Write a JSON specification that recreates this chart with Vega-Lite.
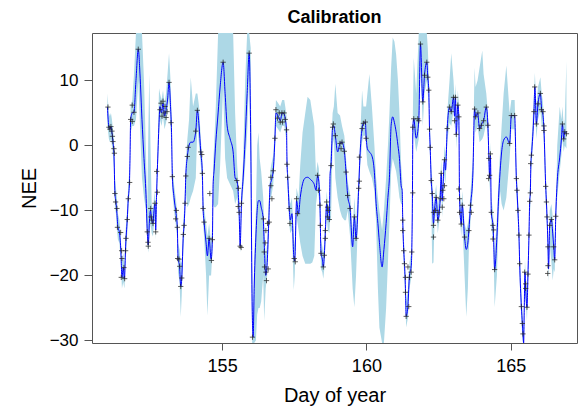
{
"$schema": "https://vega.github.io/schema/vega-lite/v6.json",
"width": 485, "height": 310,
"autosize": {"type": "none"},
"padding": {"left": 92, "top": 33, "right": 7, "bottom": 66},
"background": "white",
"title": {"text": "Calibration", "fontSize": 18, "fontWeight": "bold", "font": "Liberation Sans", "color": "black", "anchor": "middle", "baseline": "bottom", "offset": 7, "dy": 19},
"config": {"view": {"stroke": "#555", "strokeWidth": 1}},
"datasets": {
"pred": [
{"t":151.024,"m":5.9,"lo":3.0,"hi":8.0},{"t":151.076,"m":2.8,"lo":1.0,"hi":5.0},{"t":151.111,"m":2.5,"lo":0.5,"hi":4.5},{"t":151.146,"m":2.9,"lo":1.0,"hi":5.0},{"t":151.181,"m":2.0,"lo":0.0,"hi":4.0},{"t":151.215,"m":0.6,"lo":-1.5,"hi":2.5},{"t":151.250,"m":-1.2,"lo":-3.5,"hi":1.0},{"t":151.285,"m":-7.4,"lo":-9.5,"hi":-5.0},{"t":151.320,"m":-8.7,"lo":-10.5,"hi":-6.5},{"t":151.354,"m":-10.5,"lo":-13,"hi":-8},{"t":151.389,"m":-12.6,"lo":-14.5,"hi":-10.5},{"t":151.441,"m":-13.4,"lo":-15,"hi":-11.5},{"t":151.493,"m":-16.5,"lo":-18.5,"hi":-14.5},{"t":151.528,"m":-20.3,"lo":-22,"hi":-18},{"t":151.573,"m":-18.8,"lo":-21,"hi":-16.5},{"t":151.615,"m":-20.5,"lo":-22,"hi":-18.5},{"t":151.656,"m":-15.5,"lo":-17.5,"hi":-13},{"t":151.712,"m":-11.4,"lo":-13.5,"hi":-9.5},{"t":151.747,"m":-8.2,"lo":-10,"hi":-6},{"t":151.788,"m":-5.7,"lo":-7.5,"hi":-3.5},{"t":151.806,"m":-2.3,"lo":-4.5,"hi":0},{"t":151.830,"m":4.0,"lo":2,"hi":6},{"t":151.885,"m":5.0,"lo":3,"hi":7},{"t":151.944,"m":5.1,"lo":3,"hi":10.8},{"t":152.014,"m":10,"lo":4,"hi":18},{"t":152.094,"m":14.8,"lo":10,"hi":22},{"t":152.153,"m":11,"lo":3,"hi":22},{"t":152.222,"m":4,"lo":-5,"hi":20},{"t":152.292,"m":-2,"lo":-8,"hi":10},{"t":152.361,"m":-7.5,"lo":-10,"hi":-1},{"t":152.406,"m":-13.3,"lo":-15,"hi":-10},{"t":152.441,"m":-15.3,"lo":-16.5,"hi":2},{"t":152.476,"m":-12,"lo":-14,"hi":11},{"t":152.517,"m":-10,"lo":-12,"hi":0},{"t":152.559,"m":-11.5,"lo":-13.5,"hi":-9},{"t":152.604,"m":-12,"lo":-14,"hi":-10},{"t":152.639,"m":-10,"lo":-12,"hi":-8},{"t":152.674,"m":-9,"lo":-11,"hi":-7},{"t":152.698,"m":-13,"lo":-14.5,"hi":-11},{"t":152.726,"m":-8,"lo":-10,"hi":-6},{"t":152.753,"m":-4,"lo":-6,"hi":-2},{"t":152.785,"m":0,"lo":-2,"hi":3},{"t":152.813,"m":3.5,"lo":1.5,"hi":8.8},{"t":152.847,"m":6,"lo":4,"hi":8},{"t":152.899,"m":5,"lo":3,"hi":7},{"t":152.951,"m":6.5,"lo":4.5,"hi":8.5},{"t":153.003,"m":4.5,"lo":2.5,"hi":6.5},{"t":153.056,"m":5.5,"lo":3.5,"hi":8},{"t":153.108,"m":7,"lo":5,"hi":11},{"t":153.160,"m":9.7,"lo":7.5,"hi":14.2},{"t":153.212,"m":6,"lo":3,"hi":10},{"t":153.247,"m":2,"lo":-1,"hi":5},{"t":153.275,"m":-4.8,"lo":-7,"hi":-2.5},{"t":153.333,"m":-8,"lo":-10,"hi":-6},{"t":153.403,"m":-10.5,"lo":-12.5,"hi":-8.5},{"t":153.448,"m":-12.6,"lo":-14.5,"hi":-10.5},{"t":153.472,"m":-17.4,"lo":-19.5,"hi":-15},{"t":153.524,"m":-18.6,"lo":-21,"hi":-16},{"t":153.566,"m":-21.7,"lo":-26.4,"hi":-18},{"t":153.601,"m":-20.4,"lo":-23,"hi":-18},{"t":153.656,"m":-13.7,"lo":-16,"hi":-11.5},{"t":153.681,"m":-12.3,"lo":-14.5,"hi":-10},{"t":153.715,"m":-8.9,"lo":-11,"hi":-6.5},{"t":153.740,"m":-4.8,"lo":-7,"hi":-2.5},{"t":153.795,"m":-1.7,"lo":-9.5,"hi":1},{"t":153.854,"m":0,"lo":-9,"hi":4},{"t":153.913,"m":0.5,"lo":-8,"hi":10.5},{"t":153.993,"m":0.5,"lo":-7,"hi":6},{"t":154.087,"m":2.2,"lo":-5,"hi":8},{"t":154.142,"m":5.4,"lo":3,"hi":8},{"t":154.201,"m":3,"lo":0,"hi":6},{"t":154.260,"m":-1,"lo":-3,"hi":1},{"t":154.316,"m":-4.3,"lo":-6.5,"hi":-2},{"t":154.340,"m":-9.7,"lo":-12,"hi":-7.5},{"t":154.375,"m":-11.8,"lo":-14,"hi":-9.5},{"t":154.444,"m":-15,"lo":-20,"hi":-12},{"t":154.490,"m":-17,"lo":-26.2,"hi":-14},{"t":154.549,"m":-14.3,"lo":-20,"hi":-12},{"t":154.618,"m":-17.5,"lo":-20,"hi":-15},{"t":154.663,"m":-14.5,"lo":-16.5,"hi":-12},{"t":154.688,"m":-6,"lo":-9,"hi":-3},{"t":154.722,"m":-3.8,"lo":-9.5,"hi":0},{"t":154.781,"m":0.5,"lo":-9.5,"hi":6},{"t":154.861,"m":5,"lo":-9,"hi":18},{"t":154.931,"m":9,"lo":-3,"hi":22},{"t":155.035,"m":12.8,"lo":9,"hi":22},{"t":155.104,"m":8,"lo":-2,"hi":22},{"t":155.174,"m":3,"lo":-5,"hi":22},{"t":155.278,"m":1,"lo":-6,"hi":20},{"t":155.382,"m":-1,"lo":-7,"hi":18},{"t":155.451,"m":-5,"lo":-9,"hi":5},{"t":155.521,"m":-5.5,"lo":-8,"hi":-3},{"t":155.566,"m":-8,"lo":-10,"hi":-6},{"t":155.590,"m":-10.3,"lo":-13,"hi":-8},{"t":155.625,"m":-15.5,"lo":-16.5,"hi":-13.5},{"t":155.670,"m":-9,"lo":-11,"hi":-7},{"t":155.729,"m":-5,"lo":-7,"hi":-2},{"t":155.799,"m":1,"lo":-3,"hi":10},{"t":155.868,"m":8,"lo":2,"hi":22},{"t":155.938,"m":14.2,"lo":11,"hi":22},{"t":155.990,"m":2,"lo":-5,"hi":15},{"t":156.042,"m":-25,"lo":-33,"hi":-18},{"t":156.076,"m":-29.5,"lo":-33,"hi":-26},{"t":156.111,"m":-22,"lo":-33,"hi":-18},{"t":156.170,"m":-14.1,"lo":-30,"hi":-10},{"t":156.215,"m":-10,"lo":-26,"hi":0},{"t":156.260,"m":-8.5,"lo":-25,"hi":2},{"t":156.302,"m":-8.5,"lo":-25,"hi":-2},{"t":156.354,"m":-9.5,"lo":-24,"hi":-4},{"t":156.424,"m":-11.3,"lo":-20,"hi":-8},{"t":156.458,"m":-15,"lo":-27,"hi":-12},{"t":156.510,"m":-20,"lo":-22,"hi":-17},{"t":156.563,"m":-18,"lo":-20,"hi":-15},{"t":156.615,"m":-12,"lo":-14,"hi":-9},{"t":156.667,"m":-6,"lo":-8,"hi":-4},{"t":156.701,"m":-5.5,"lo":-8,"hi":-3},{"t":156.771,"m":-3.9,"lo":-6,"hi":-1.5},{"t":156.830,"m":1.1,"lo":-1,"hi":3},{"t":156.865,"m":5,"lo":3,"hi":7},{"t":156.944,"m":4.5,"lo":2.5,"hi":6.5},{"t":157.014,"m":3.8,"lo":2,"hi":6},{"t":157.083,"m":5,"lo":3,"hi":7},{"t":157.153,"m":4.8,"lo":3,"hi":7},{"t":157.188,"m":4,"lo":2,"hi":6},{"t":157.233,"m":2.4,"lo":0.5,"hi":4.5},{"t":157.250,"m":-2.9,"lo":-5,"hi":-1},{"t":157.274,"m":-4.9,"lo":-7,"hi":-3},{"t":157.326,"m":-9.7,"lo":-12,"hi":-7.5},{"t":157.361,"m":-11.5,"lo":-13.5,"hi":-9},{"t":157.420,"m":-10.5,"lo":-13,"hi":-8},{"t":157.483,"m":-17,"lo":-22.3,"hi":-14},{"t":157.517,"m":-17.8,"lo":-20,"hi":-15.5},{"t":157.580,"m":-8.5,"lo":-11,"hi":-6.5},{"t":157.649,"m":-10.5,"lo":-13,"hi":-8},{"t":157.708,"m":-8,"lo":-15,"hi":-3},{"t":157.788,"m":-5.9,"lo":-17,"hi":2},{"t":157.882,"m":-5,"lo":-18.2,"hi":5},{"t":157.962,"m":-4.9,"lo":-18.2,"hi":7.5},{"t":158.056,"m":-5.2,"lo":-18.2,"hi":7},{"t":158.125,"m":-5.5,"lo":-18,"hi":5},{"t":158.194,"m":-6,"lo":-17,"hi":3},{"t":158.253,"m":-6.9,"lo":-9,"hi":-4.5},{"t":158.309,"m":-4.6,"lo":-7,"hi":-2.5},{"t":158.351,"m":-5.5,"lo":-8,"hi":-3.5},{"t":158.392,"m":-9.2,"lo":-11.5,"hi":-7},{"t":158.427,"m":-16.6,"lo":-19,"hi":-14.5},{"t":158.472,"m":-17.5,"lo":-19.5,"hi":-15.5},{"t":158.507,"m":-18.7,"lo":-20.5,"hi":-16.5},{"t":158.542,"m":-16.9,"lo":-19,"hi":-15},{"t":158.576,"m":-13.5,"lo":-15.5,"hi":-11.5},{"t":158.622,"m":-9,"lo":-11,"hi":-7},{"t":158.663,"m":-11,"lo":-13,"hi":-9},{"t":158.715,"m":-11.4,"lo":-13.5,"hi":-9.5},{"t":158.740,"m":-4.6,"lo":-11.5,"hi":-2.5},{"t":158.774,"m":-3.1,"lo":-11.5,"hi":0},{"t":158.830,"m":2.8,"lo":0,"hi":5},{"t":158.872,"m":3.0,"lo":1,"hi":6},{"t":158.924,"m":1.5,"lo":-5,"hi":9.5},{"t":159.004,"m":-1,"lo":-8,"hi":5},{"t":159.087,"m":0.3,"lo":-10,"hi":4.6},{"t":159.156,"m":0.5,"lo":-11,"hi":3},{"t":159.236,"m":-0.9,"lo":-11.5,"hi":1.5},{"t":159.295,"m":-4.1,"lo":-11.5,"hi":-2},{"t":159.351,"m":-7.7,"lo":-10,"hi":-5.5},{"t":159.434,"m":-9.7,"lo":-14,"hi":-7.5},{"t":159.524,"m":-15.6,"lo":-22,"hi":-13},{"t":159.583,"m":-11,"lo":-24.9,"hi":-8},{"t":159.642,"m":-14.3,"lo":-20,"hi":-12},{"t":159.733,"m":-6.6,"lo":-9,"hi":-4.5},{"t":159.774,"m":-2,"lo":-4,"hi":0},{"t":159.851,"m":2.6,"lo":0.5,"hi":8.5},{"t":159.896,"m":3.4,"lo":1.5,"hi":6},{"t":159.965,"m":3.6,"lo":1.5,"hi":6},{"t":159.990,"m":1.5,"lo":-0.5,"hi":6},{"t":160.035,"m":-0.5,"lo":-3,"hi":8},{"t":160.104,"m":-1,"lo":-4,"hi":11},{"t":160.191,"m":-1.6,"lo":-5,"hi":6},{"t":160.278,"m":-4.2,"lo":-7,"hi":0},{"t":160.337,"m":-8.9,"lo":-12,"hi":-5},{"t":160.399,"m":-12,"lo":-22,"hi":-8},{"t":160.451,"m":-14.9,"lo":-28,"hi":-10},{"t":160.545,"m":-18.7,"lo":-33,"hi":-13},{"t":160.608,"m":-16,"lo":-31,"hi":-10},{"t":160.684,"m":-12,"lo":-25,"hi":-5},{"t":160.747,"m":-8,"lo":-18,"hi":0},{"t":160.799,"m":-4.9,"lo":-12,"hi":5},{"t":160.858,"m":3.1,"lo":-4,"hi":12},{"t":160.913,"m":4.4,"lo":-2,"hi":16.6},{"t":160.972,"m":3.5,"lo":-3,"hi":16},{"t":161.031,"m":2.1,"lo":-4,"hi":14},{"t":161.094,"m":0,"lo":-6,"hi":10},{"t":161.146,"m":-2,"lo":-8,"hi":5},{"t":161.205,"m":-6.2,"lo":-9,"hi":-3},{"t":161.240,"m":-6.9,"lo":-9,"hi":-5},{"t":161.260,"m":-11.5,"lo":-14,"hi":-9},{"t":161.295,"m":-16.2,"lo":-18.5,"hi":-14},{"t":161.320,"m":-18.2,"lo":-20.5,"hi":-16},{"t":161.354,"m":-22,"lo":-24.5,"hi":-20},{"t":161.379,"m":-26.3,"lo":-28,"hi":-24},{"t":161.441,"m":-24.5,"lo":-26.5,"hi":-22},{"t":161.493,"m":-20,"lo":-22,"hi":-18},{"t":161.552,"m":-18.7,"lo":-20.5,"hi":-16.5},{"t":161.573,"m":-16.4,"lo":-18.5,"hi":-14},{"t":161.597,"m":-7.3,"lo":-9.5,"hi":-5},{"t":161.611,"m":2.8,"lo":0.5,"hi":5},{"t":161.642,"m":4.1,"lo":2,"hi":13.5},{"t":161.726,"m":1.1,"lo":-1,"hi":8},{"t":161.816,"m":3.8,"lo":1,"hi":20},{"t":161.875,"m":15.6,"lo":12,"hi":22},{"t":161.955,"m":6.7,"lo":3,"hi":22},{"t":162.014,"m":10.8,"lo":8,"hi":22},{"t":162.094,"m":12.8,"lo":10,"hi":20},{"t":162.129,"m":10.5,"lo":8,"hi":15},{"t":162.163,"m":8.5,"lo":6,"hi":11},{"t":162.188,"m":2.5,"lo":0,"hi":5},{"t":162.212,"m":-0.3,"lo":-2.5,"hi":2},{"t":162.247,"m":-5.4,"lo":-8,"hi":-3},{"t":162.281,"m":-7.4,"lo":-18.2,"hi":-5},{"t":162.326,"m":-12,"lo":-18,"hi":-9.5},{"t":162.361,"m":-10,"lo":-12,"hi":-8},{"t":162.420,"m":-8,"lo":-10,"hi":-6},{"t":162.476,"m":-11.5,"lo":-13.5,"hi":-9.5},{"t":162.559,"m":-8.2,"lo":-10.5,"hi":-6},{"t":162.594,"m":-4.3,"lo":-6.5,"hi":-2},{"t":162.628,"m":-8.5,"lo":-11,"hi":-6.5},{"t":162.649,"m":-6.9,"lo":-9,"hi":-5},{"t":162.708,"m":-2.2,"lo":-4.5,"hi":0},{"t":162.743,"m":-3.8,"lo":-6,"hi":-1.5},{"t":162.802,"m":2.6,"lo":0.5,"hi":5},{"t":162.882,"m":5.9,"lo":3.5,"hi":10},{"t":162.941,"m":5.2,"lo":3,"hi":14.2},{"t":163.021,"m":7.4,"lo":5.5,"hi":10},{"t":163.056,"m":4.5,"lo":2.5,"hi":7},{"t":163.090,"m":7.4,"lo":5.5,"hi":9.5},{"t":163.115,"m":1.7,"lo":-0.5,"hi":4},{"t":163.170,"m":6.2,"lo":4,"hi":8.5},{"t":163.205,"m":4.4,"lo":2,"hi":6.5},{"t":163.229,"m":-8.2,"lo":-10.5,"hi":-6},{"t":163.288,"m":-12.1,"lo":-14,"hi":-10},{"t":163.323,"m":-9.2,"lo":-11.5,"hi":-7},{"t":163.403,"m":-14.1,"lo":-20,"hi":-12},{"t":163.462,"m":-16,"lo":-26.4,"hi":-13},{"t":163.517,"m":-15,"lo":-22,"hi":-12},{"t":163.552,"m":-13.1,"lo":-16,"hi":-11},{"t":163.611,"m":-9.2,"lo":-11.5,"hi":-7},{"t":163.691,"m":-4.4,"lo":-7,"hi":-2},{"t":163.750,"m":5.6,"lo":3,"hi":12},{"t":163.785,"m":4.4,"lo":2,"hi":9},{"t":163.854,"m":5,"lo":3,"hi":10},{"t":163.924,"m":2.6,"lo":0.5,"hi":12},{"t":164.017,"m":3.5,"lo":1,"hi":14.6},{"t":164.062,"m":3.8,"lo":1.5,"hi":11},{"t":164.156,"m":5.9,"lo":3.5,"hi":8},{"t":164.212,"m":3.1,"lo":1,"hi":5},{"t":164.247,"m":-2,"lo":-4,"hi":0},{"t":164.271,"m":-5,"lo":-7,"hi":-3},{"t":164.299,"m":-1.5,"lo":-3.5,"hi":0.5},{"t":164.330,"m":-10.3,"lo":-12.5,"hi":-8},{"t":164.386,"m":-12.3,"lo":-14.5,"hi":-10},{"t":164.410,"m":-14.4,"lo":-17,"hi":-12},{"t":164.445,"m":-19.1,"lo":-24.9,"hi":-16.5},{"t":164.525,"m":-14,"lo":-20,"hi":-11},{"t":164.583,"m":-8,"lo":-11,"hi":-5},{"t":164.635,"m":-4,"lo":-7,"hi":-1},{"t":164.688,"m":-1,"lo":-9,"hi":3},{"t":164.757,"m":0.8,"lo":-10,"hi":8},{"t":164.851,"m":1.3,"lo":-8,"hi":12.3},{"t":164.965,"m":0.3,"lo":-2,"hi":5},{"t":165.024,"m":4.6,"lo":2.5,"hi":7},{"t":165.139,"m":4.6,"lo":2.5,"hi":7},{"t":165.198,"m":-5.1,"lo":-7.5,"hi":-3},{"t":165.219,"m":-6.9,"lo":-9,"hi":-4.5},{"t":165.253,"m":-10,"lo":-12,"hi":-8},{"t":165.288,"m":-13.8,"lo":-16,"hi":-11.5},{"t":165.313,"m":-18.2,"lo":-20.5,"hi":-16},{"t":165.372,"m":-24.8,"lo":-27,"hi":-22.5},{"t":165.406,"m":-27.4,"lo":-29.5,"hi":-25},{"t":165.427,"m":-29,"lo":-31,"hi":-27},{"t":165.451,"m":-30.8,"lo":-34,"hi":-28},{"t":165.472,"m":-25,"lo":-27.5,"hi":-22.5},{"t":165.497,"m":-19.5,"lo":-22,"hi":-17.5},{"t":165.521,"m":-22,"lo":-24,"hi":-20},{"t":165.566,"m":-24.9,"lo":-27,"hi":-22.5},{"t":165.601,"m":-19.8,"lo":-22,"hi":-17.5},{"t":165.636,"m":-13.8,"lo":-16,"hi":-11.5},{"t":165.660,"m":-8.6,"lo":-11,"hi":-6.5},{"t":165.684,"m":-7.3,"lo":-9.5,"hi":-5},{"t":165.701,"m":-2.8,"lo":-5,"hi":-0.5},{"t":165.722,"m":-1.5,"lo":-3.5,"hi":0.5},{"t":165.809,"m":5.2,"lo":3,"hi":8},{"t":165.840,"m":9,"lo":6.5,"hi":11.2},{"t":165.892,"m":3.3,"lo":1,"hi":6},{"t":165.948,"m":6.4,"lo":4,"hi":9},{"t":166.031,"m":8,"lo":5.5,"hi":10.5},{"t":166.076,"m":5.5,"lo":3,"hi":8},{"t":166.111,"m":5,"lo":3,"hi":7},{"t":166.156,"m":2.3,"lo":0,"hi":4.5},{"t":166.215,"m":-6.3,"lo":-8.5,"hi":-4},{"t":166.240,"m":-8.7,"lo":-11,"hi":-6.5},{"t":166.261,"m":-11,"lo":-13,"hi":-9},{"t":166.295,"m":-15.6,"lo":-18,"hi":-13.5},{"t":166.313,"m":-19,"lo":-21,"hi":-17},{"t":166.354,"m":-12.3,"lo":-15,"hi":-10},{"t":166.413,"m":-11.4,"lo":-18,"hi":-9},{"t":166.458,"m":-13.5,"lo":-20.8,"hi":-11},{"t":166.493,"m":-15.6,"lo":-19,"hi":-13},{"t":166.528,"m":-17.6,"lo":-19.5,"hi":-15.5},{"t":166.563,"m":-10.9,"lo":-13,"hi":-8.5},{"t":166.587,"m":-8,"lo":-10,"hi":-6},{"t":166.615,"m":-5.5,"lo":-8,"hi":0},{"t":166.701,"m":-1.8,"lo":-4,"hi":6},{"t":166.760,"m":1,"lo":-1.5,"hi":4},{"t":166.795,"m":3.3,"lo":1,"hi":6},{"t":166.840,"m":1,"lo":-1,"hi":3},{"t":166.875,"m":2.1,"lo":0,"hi":4},{"t":166.934,"m":1.8,"lo":-0.5,"hi":13}
],
"obs": [
{"t":151.042,"v":5.9},{"t":151.076,"v":2.8},{"t":151.111,"v":2.5},{"t":151.146,"v":2.9},{"t":151.181,"v":2.2},{"t":151.198,"v":1.4},{"t":151.215,"v":0.6},{"t":151.250,"v":-0.5},{"t":151.267,"v":-1.2},{"t":151.285,"v":-7.4},{"t":151.309,"v":-8.7},{"t":151.354,"v":-9.7},{"t":151.372,"v":-12.6},{"t":151.483,"v":-13.4},{"t":151.517,"v":-16.2},{"t":151.528,"v":-17.4},{"t":151.504,"v":-20.3},{"t":151.622,"v":-20.5},{"t":151.597,"v":-18.8},{"t":151.656,"v":-16.2},{"t":151.667,"v":-14.3},{"t":151.712,"v":-11.4},{"t":151.747,"v":-8.2},{"t":151.795,"v":-5.7},{"t":151.830,"v":4.0},{"t":151.885,"v":3.7},{"t":151.885,"v":6.2},{"t":151.945,"v":5.1},{"t":152.094,"v":14.8},{"t":152.406,"v":-13.3},{"t":152.431,"v":-14.9},{"t":152.441,"v":-15.5},{"t":152.524,"v":-9.7},{"t":152.535,"v":-11},{"t":152.570,"v":-11.5},{"t":152.604,"v":-12},{"t":152.674,"v":-8.9},{"t":152.698,"v":-13.3},{"t":152.754,"v":-7.2},{"t":152.733,"v":-4.0},{"t":152.847,"v":5.5},{"t":152.882,"v":6.5},{"t":152.917,"v":4.5},{"t":152.951,"v":6.8},{"t":152.986,"v":5},{"t":153.021,"v":6},{"t":153.056,"v":4.3},{"t":153.090,"v":5.2},{"t":153.160,"v":9.7},{"t":153.229,"v":3.5},{"t":153.274,"v":-4.8},{"t":153.413,"v":-10},{"t":153.392,"v":-11.3},{"t":153.448,"v":-12.6},{"t":153.458,"v":-17.4},{"t":153.507,"v":-17.5},{"t":153.531,"v":-18.6},{"t":153.566,"v":-21.7},{"t":153.601,"v":-20.4},{"t":153.656,"v":-13.7},{"t":153.681,"v":-12.3},{"t":153.715,"v":-8.9},{"t":153.740,"v":-4.7},{"t":153.795,"v":-1.7},{"t":153.820,"v":-0.3},{"t":154.087,"v":2.2},{"t":154.142,"v":5.4},{"t":154.260,"v":-1.0},{"t":154.295,"v":-1.4},{"t":154.316,"v":-4.3},{"t":154.340,"v":-9.7},{"t":154.375,"v":-11.8},{"t":154.549,"v":-14.3},{"t":154.629,"v":-17.7},{"t":154.663,"v":-14.5},{"t":154.573,"v":-7.4},{"t":155.035,"v":12.8},{"t":155.510,"v":-5.4},{"t":155.566,"v":-6.6},{"t":155.556,"v":-9.4},{"t":155.590,"v":-10.3},{"t":155.670,"v":-8.9},{"t":155.625,"v":-15.5},{"t":155.660,"v":-15.7},{"t":155.938,"v":14.2},{"t":156.052,"v":-29.5},{"t":156.434,"v":-11.3},{"t":156.517,"v":-13.1},{"t":156.493,"v":-15},{"t":156.458,"v":-16.4},{"t":156.469,"v":-18.7},{"t":156.517,"v":-19.5},{"t":156.538,"v":-20.8},{"t":156.573,"v":-12},{"t":156.597,"v":-19},{"t":156.632,"v":-11.8},{"t":156.691,"v":-6.2},{"t":156.691,"v":-4.9},{"t":156.726,"v":-8.2},{"t":156.771,"v":-3.9},{"t":156.830,"v":1.1},{"t":156.865,"v":5.5},{"t":156.920,"v":4.2},{"t":156.979,"v":5},{"t":157.014,"v":3.6},{"t":157.073,"v":5},{"t":157.094,"v":3.6},{"t":157.153,"v":5},{"t":157.188,"v":4},{"t":157.233,"v":2.4},{"t":157.247,"v":-2.9},{"t":157.267,"v":-4.9},{"t":157.326,"v":-9.7},{"t":157.351,"v":-12},{"t":157.500,"v":-17.4},{"t":157.535,"v":-17.9},{"t":157.580,"v":-8.2},{"t":157.615,"v":-10.5},{"t":158.309,"v":-4.6},{"t":158.344,"v":-6.9},{"t":158.392,"v":-9.2},{"t":158.403,"v":-12.3},{"t":158.427,"v":-16.6},{"t":158.507,"v":-18.7},{"t":158.542,"v":-16.9},{"t":158.576,"v":-13.1},{"t":158.576,"v":-14.3},{"t":158.622,"v":-8.7},{"t":158.656,"v":-9.5},{"t":158.656,"v":-11},{"t":158.681,"v":-10},{"t":158.715,"v":-11.4},{"t":158.774,"v":-3.1},{"t":158.830,"v":2.8},{"t":158.854,"v":3.3},{"t":158.924,"v":1.5},{"t":159.087,"v":0.3},{"t":159.156,"v":0.5},{"t":159.122,"v":-0.5},{"t":159.236,"v":-0.9},{"t":159.295,"v":-4.1},{"t":159.351,"v":-7.7},{"t":159.434,"v":-9.7},{"t":159.583,"v":-11},{"t":159.642,"v":-14.3},{"t":159.733,"v":-6.6},{"t":159.757,"v":-5.5},{"t":159.757,"v":-1.8},{"t":159.851,"v":2.6},{"t":159.896,"v":3.4},{"t":159.965,"v":3.6},{"t":159.990,"v":1.1},{"t":161.260,"v":-11.5},{"t":161.260,"v":-13.1},{"t":161.295,"v":-16.2},{"t":161.320,"v":-18.2},{"t":161.354,"v":-20.3},{"t":161.354,"v":-22.6},{"t":161.379,"v":-26.3},{"t":161.469,"v":-24.8},{"t":161.441,"v":-18.7},{"t":161.493,"v":-20.3},{"t":161.552,"v":-19.5},{"t":161.573,"v":-16.4},{"t":161.608,"v":-7.3},{"t":161.608,"v":2.8},{"t":161.642,"v":4.1},{"t":161.781,"v":4.1},{"t":161.816,"v":3.8},{"t":161.875,"v":15.6},{"t":161.955,"v":6.7},{"t":162.014,"v":10.8},{"t":162.094,"v":12.8},{"t":162.129,"v":10.5},{"t":162.163,"v":8.5},{"t":162.188,"v":2.5},{"t":162.212,"v":-0.3},{"t":162.247,"v":-5.4},{"t":162.281,"v":-7.4},{"t":162.326,"v":-10.3},{"t":162.326,"v":-12.3},{"t":162.326,"v":-14.1},{"t":162.396,"v":-10},{"t":162.420,"v":-8},{"t":162.476,"v":-11.5},{"t":162.510,"v":-10.3},{"t":162.559,"v":-8.2},{"t":162.594,"v":-4.3},{"t":162.629,"v":-9.5},{"t":162.649,"v":-6.9},{"t":162.684,"v":-8.2},{"t":162.708,"v":-6.2},{"t":162.708,"v":-2.2},{"t":162.802,"v":2.6},{"t":162.882,"v":5.9},{"t":162.941,"v":5.2},{"t":163.021,"v":7.4},{"t":163.090,"v":7.4},{"t":163.056,"v":3.8},{"t":163.115,"v":1.7},{"t":163.170,"v":6.2},{"t":163.205,"v":4.4},{"t":163.205,"v":-6.7},{"t":163.229,"v":-8.2},{"t":163.229,"v":-10.3},{"t":163.288,"v":-12.1},{"t":163.323,"v":-9.2},{"t":163.403,"v":-14.1},{"t":163.552,"v":-13.1},{"t":163.611,"v":-9.2},{"t":163.635,"v":-10.3},{"t":163.750,"v":5.6},{"t":163.785,"v":4.4},{"t":163.865,"v":5},{"t":163.924,"v":2.6},{"t":163.983,"v":3.1},{"t":164.063,"v":3.8},{"t":164.156,"v":5.9},{"t":164.212,"v":3.1},{"t":164.247,"v":-2},{"t":164.271,"v":-4.6},{"t":164.299,"v":-1.3},{"t":164.236,"v":-5.1},{"t":164.330,"v":-10.3},{"t":164.385,"v":-12.3},{"t":164.385,"v":-14.4},{"t":164.410,"v":-13},{"t":164.445,"v":-19.1},{"t":164.965,"v":0.3},{"t":165.024,"v":4.6},{"t":165.139,"v":4.6},{"t":165.198,"v":-5.1},{"t":165.219,"v":-6.9},{"t":165.254,"v":-10},{"t":165.288,"v":-13.8},{"t":165.313,"v":-18.2},{"t":165.372,"v":-24.8},{"t":165.406,"v":-27.4},{"t":165.427,"v":-29},{"t":165.486,"v":-19.5},{"t":165.521,"v":-21.3},{"t":165.521,"v":-22},{"t":165.566,"v":-24.9},{"t":165.601,"v":-19.8},{"t":165.635,"v":-13.8},{"t":165.660,"v":-8.6},{"t":165.684,"v":-7.3},{"t":165.695,"v":-2.8},{"t":165.719,"v":-1.5},{"t":165.809,"v":5.2},{"t":165.833,"v":9},{"t":165.892,"v":3.3},{"t":165.948,"v":6.4},{"t":166.031,"v":8},{"t":166.066,"v":5.5},{"t":166.122,"v":5.2},{"t":166.156,"v":2.3},{"t":166.156,"v":3},{"t":166.215,"v":-6.3},{"t":166.240,"v":-8.7},{"t":166.260,"v":-11},{"t":166.295,"v":-15.6},{"t":166.295,"v":-18.5},{"t":166.285,"v":-19.7},{"t":166.354,"v":-12.3},{"t":166.413,"v":-11.4},{"t":166.493,"v":-15.6},{"t":166.528,"v":-17.6},{"t":166.563,"v":-10.9},{"t":166.795,"v":3.3},{"t":166.840,"v":1.0},{"t":166.875,"v":2.1},{"t":166.934,"v":1.8}
]
},
"layer": [
{"data": {"name": "pred"},
 "mark": {"type": "area", "color": "#ADD8E6", "opacity": 1, "clip": true},
 "encoding": {
  "x": {"field": "t", "type": "quantitative", "scale": {"domain": [150.49, 167.3], "nice": false, "zero": false},
   "axis": {"values": [155, 160, 165], "title": "Day of year", "grid": false, "domain": false, "tickSize": 7, "tickColor": "#555", "labelFontSize": 18, "labelFont": "Liberation Sans", "labelColor": "black", "labelPadding": 7, "titleFontSize": 20, "titleFont": "Liberation Sans", "titleFontWeight": "normal", "titleColor": "black", "titlePadding": 10}},
  "y": {"field": "lo", "type": "quantitative", "scale": {"domain": [-30.4, 17.3], "nice": false, "zero": false, "clamp": true},
   "axis": {"values": [-30, -20, -10, 0, 10], "title": "NEE", "grid": false, "domain": false, "tickSize": 8, "tickColor": "#555", "labelFontSize": 17, "labelFont": "Liberation Sans", "labelColor": "black", "labelPadding": 6, "titleFontSize": 20, "titleFont": "Liberation Sans", "titleFontWeight": "normal", "titleColor": "black", "titlePadding": 10}},
  "y2": {"field": "hi"}
 }},
{"data": {"name": "pred"},
 "mark": {"type": "line", "color": "#0000FF", "strokeWidth": 1, "clip": true, "interpolate": "monotone"},
 "encoding": {
  "x": {"field": "t", "type": "quantitative"},
  "y": {"field": "m", "type": "quantitative"}
 }},
{"data": {"name": "obs"},
 "mark": {"type": "point", "shape": "M-1,0H1M0,-1V1", "filled": false, "stroke": "#222", "strokeWidth": 0.8, "size": 28, "opacity": 0.9, "clip": true},
 "encoding": {
  "x": {"field": "t", "type": "quantitative"},
  "y": {"field": "v", "type": "quantitative"}
 }}
]
}
